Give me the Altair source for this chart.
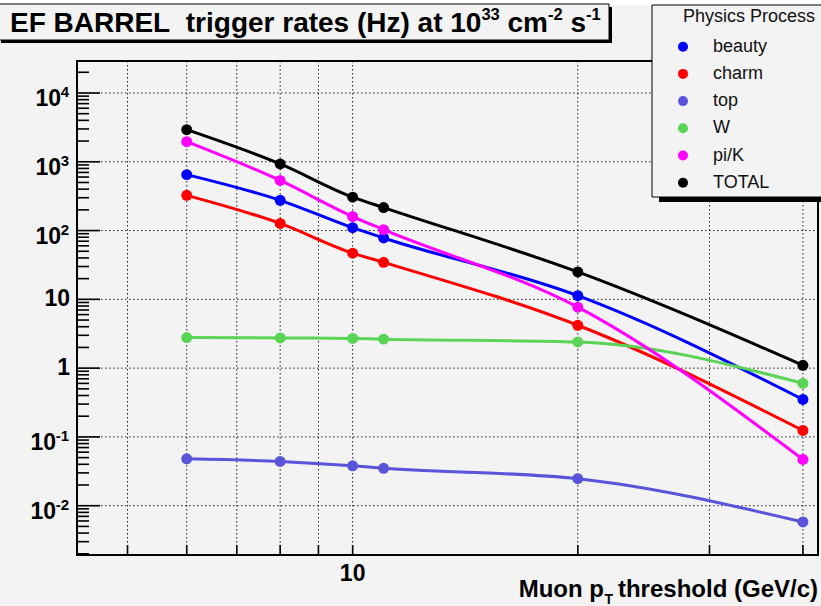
import altair as alt
import pandas as pd

# ---------------- data ----------------
x_vals = [6, 8, 10, 11, 20, 40]
beauty = [650, 275, 110, 78, 11.3, 0.35]
charm = [325, 127, 47, 34.5, 4.2, 0.124]
top = [0.048, 0.044, 0.038, 0.035, 0.0247, 0.0058]
w_boson = [2.78, 2.75, 2.70, 2.64, 2.40, 0.60]
pik = [1960, 535, 160, 103, 7.7, 0.047]
total = [2930, 930, 306, 216, 25, 1.1]

series_names = ["beauty", "charm", "top", "W", "pi/K", "TOTAL"]
series_values = [beauty, charm, top, w_boson, pik, total]
series_colors = ["#0000ff", "#ff0000", "#5954d9", "#59d454", "#ff00ff", "#000000"]

x_grid = [5, 6, 7, 8, 9, 10, 20, 30, 40]
x_tick_labels = [10]
y_decades = [0.01, 0.1, 1, 10, 100, 1000, 10000]
y_label_pos_exp = [(1e4, "4"), (1e3, "3"), (1e2, "2")]
y_label_neg_exp = [(0.1, "-1"), (0.01, "-2")]
y_label_plain = [(10, "10"), (1, "1")]

W_PLOT, H_PLOT = 741, 494
BG = "#f3f3f3"
FONT = "Liberation Sans"

xscale = alt.Scale(type="log", domain=[4.28, 41.9], nice=False)
yscale = alt.Scale(type="log", domain=[0.00192, 29170], nice=False)

one = pd.DataFrame({"a": [0]})
layers = []

# top white strip
layers.append(alt.Chart(one).mark_rect(color="white").encode(
    x=alt.value(-80), x2=alt.value(750), y=alt.value(-62), y2=alt.value(-56)))

# ---------------- grid ----------------
layers.append(alt.Chart(pd.DataFrame({"gx": x_grid})).mark_rule(
    color="#222", strokeDash=[1.5, 2.5], strokeWidth=1).encode(
    x=alt.X("gx:Q", scale=xscale, axis=None), y=alt.value(0), y2=alt.value(H_PLOT)))
layers.append(alt.Chart(pd.DataFrame({"gy": y_decades})).mark_rule(
    color="#222", strokeDash=[1.5, 2.5], strokeWidth=1).encode(
    y=alt.Y("gy:Q", scale=yscale, axis=None), x=alt.value(0), x2=alt.value(W_PLOT)))

# ---------------- ticks (inward) ----------------
minor_y = []
for k in range(-3, 5):
    for d in range(2, 10):
        v = d * 10 ** k
        if 0.00192 < v < 29170:
            minor_y.append(v)
layers.append(alt.Chart(pd.DataFrame({"ty": y_decades})).mark_rule(
    color="black", strokeWidth=1.6).encode(
    y=alt.Y("ty:Q", scale=yscale, axis=None), x=alt.value(0), x2=alt.value(23)))
layers.append(alt.Chart(pd.DataFrame({"ty": minor_y})).mark_rule(
    color="black", strokeWidth=1.6).encode(
    y=alt.Y("ty:Q", scale=yscale, axis=None), x=alt.value(0), x2=alt.value(12)))
layers.append(alt.Chart(pd.DataFrame({"tx": x_grid})).mark_rule(
    color="black", strokeWidth=1.6).encode(
    x=alt.X("tx:Q", scale=xscale, axis=None), y=alt.value(H_PLOT), y2=alt.value(H_PLOT - 10)))

# ---------------- data series ----------------
for name, vals, col in zip(series_names, series_values, series_colors):
    df = pd.DataFrame({"x": x_vals, "y": vals, "series": name})
    layers.append(alt.Chart(df).mark_line(
        interpolate="monotone", color=col, strokeWidth=3).encode(
        x=alt.X("x:Q", scale=xscale, axis=None), y=alt.Y("y:Q", scale=yscale, axis=None)))
    layers.append(alt.Chart(df).mark_point(
        filled=True, shape="circle", size=120, color=col, opacity=1).encode(
        x=alt.X("x:Q", scale=xscale, axis=None), y=alt.Y("y:Q", scale=yscale, axis=None)))

# ---------------- frame ----------------
layers.append(alt.Chart(one).mark_rect(fill=None, stroke="black", strokeWidth=2, fillOpacity=0).encode(
    x=alt.value(0), x2=alt.value(W_PLOT), y=alt.value(0), y2=alt.value(H_PLOT)))

# ---------------- axis labels ----------------
LBL = 23
EXP = 15
df_pos = pd.DataFrame({"v": [v for v, _ in y_label_pos_exp], "e": [e for _, e in y_label_pos_exp]})
df_neg = pd.DataFrame({"v": [v for v, _ in y_label_neg_exp], "e": [e for _, e in y_label_neg_exp]})
df_pl = pd.DataFrame({"v": [v for v, _ in y_label_plain], "t": [t for _, t in y_label_plain]})
for dfe, base_x in [(df_pos, -16), (df_neg, -21)]:
    layers.append(alt.Chart(dfe).mark_text(
        text="10", font=FONT, fontWeight="bold", fontSize=LBL, align="right", baseline="middle", dy=6).encode(
        y=alt.Y("v:Q", scale=yscale, axis=None), x=alt.value(base_x)))
    layers.append(alt.Chart(dfe).mark_text(
        font=FONT, fontWeight="bold", fontSize=EXP, align="right", baseline="middle", dy=-1).encode(
        y=alt.Y("v:Q", scale=yscale, axis=None), x=alt.value(-8), text="e:N"))
layers.append(alt.Chart(df_pl).mark_text(
    font=FONT, fontWeight="bold", fontSize=LBL, align="right", baseline="middle").encode(
    y=alt.Y("v:Q", scale=yscale, axis=None), x=alt.value(-7), text="t:N"))
layers.append(alt.Chart(pd.DataFrame({"v": x_tick_labels})).mark_text(
    text="10", font=FONT, fontWeight="bold", fontSize=LBL, align="center", baseline="middle").encode(
    x=alt.X("v:Q", scale=xscale, axis=None), y=alt.value(513)))

# x axis title: Muon p_T threshold (GeV/c)
AT = 24
layers.append(alt.Chart(one).mark_text(
    text="threshold (GeV/c)", font=FONT, fontWeight="bold", fontSize=AT, align="right", baseline="alphabetic").encode(
    x=alt.value(741), y=alt.value(536)))
layers.append(alt.Chart(one).mark_text(
    text="T", font=FONT, fontWeight="bold", fontSize=14, align="right", baseline="alphabetic").encode(
    x=alt.value(536), y=alt.value(543)))
layers.append(alt.Chart(one).mark_text(
    text="Muon p", font=FONT, fontWeight="bold", fontSize=AT, align="right", baseline="alphabetic").encode(
    x=alt.value(527), y=alt.value(536)))

# ---------------- legend ----------------
layers.append(alt.Chart(one).mark_rect(color="black").encode(
    x=alt.value(582), x2=alt.value(760), y=alt.value(-50), y2=alt.value(141)))
layers.append(alt.Chart(one).mark_rect(fill=BG, stroke="black", strokeWidth=1).encode(
    x=alt.value(575), x2=alt.value(760), y=alt.value(-56), y2=alt.value(136)))
layers.append(alt.Chart(one).mark_text(
    text="Physics Process", font=FONT, fontSize=18, align="left", baseline="middle", color="#111").encode(
    x=alt.value(606), y=alt.value(-44)))
leg = pd.DataFrame({"name": series_names, "col": series_colors,
                    "ly": [-14.3 + 27.2 * i for i in range(len(series_names))]})
layers.append(alt.Chart(leg).mark_point(filled=True, shape="circle", size=100, opacity=1).encode(
    x=alt.value(606), y=alt.Y("ly:Q", scale=None, axis=None),
    color=alt.Color("col:N", scale=None, legend=None)))
layers.append(alt.Chart(leg).mark_text(
    font=FONT, fontSize=18, align="left", baseline="middle", color="#111").encode(
    x=alt.value(636), y=alt.Y("ly:Q", scale=None, axis=None), text="name:N"))

# ---------------- title box ----------------
layers.append(alt.Chart(one).mark_rect(color="black").encode(
    x=alt.value(-76), x2=alt.value(535), y=alt.value(-54), y2=alt.value(-18)))
layers.append(alt.Chart(one).mark_rect(fill=BG, stroke="black", strokeWidth=1).encode(
    x=alt.value(-79), x2=alt.value(532), y=alt.value(-57), y2=alt.value(-21)))

TS = 28
SS = 16.5
TB = -29.5
SB = -41
title_segments = [
    ("EF BARREL\u00a0 trigger rates (Hz) at 10", -67, TS, TB),
    ("33", 404.4, SS, SB),
    ("cm", 430.5, TS, TB),
    ("-2", 471.0, SS, SB),
    ("s", 493.5, TS, TB),
    ("-1", 509.1, SS, SB),
]
for txt, tx, fs, ty in title_segments:
    layers.append(alt.Chart(one).mark_text(
        text=txt, font=FONT, fontWeight="bold", fontSize=fs, align="left", baseline="alphabetic", color="black").encode(
        x=alt.value(tx), y=alt.value(ty)))

chart = alt.layer(*layers).properties(
    width=W_PLOT, height=H_PLOT,
    padding={"left": 77, "top": 61, "right": 3, "bottom": 51},
    autosize=alt.AutoSizeParams(type="none"),
    background=BG,
).configure_view(stroke=None)

chart.save("out.html", embed_options={"renderer": "svg", "actions": False})
